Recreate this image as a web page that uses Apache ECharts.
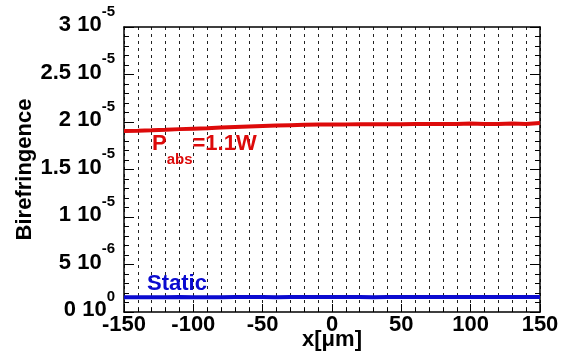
<!DOCTYPE html>
<html>
<head>
<meta charset="utf-8">
<script src="https://cdn.jsdelivr.net/npm/echarts@6/dist/echarts.min.js"></script>
<style>html,body{margin:0;padding:0;background:#fff;}#c{width:569px;height:354px;}</style>
</head>
<body>
<div id="c"></div>
<script>
// ---- data ----
var xPositions = [-150,-140,-130,-120,-110,-100,-90,-80,-70,-60,-50,-40,-30,-20,-10,0,10,20,30,40,50,60,70,80,90,100,110,120,130,140,150];
var heatedValues = [1.905,1.908,1.912,1.918,1.925,1.930,1.935,1.942,1.948,1.953,1.958,1.962,1.966,1.970,1.974,1.975,1.975,1.976,1.977,1.977,1.976,1.978,1.980,1.979,1.978,1.983,1.980,1.979,1.985,1.980,1.990]; // x 1e-5
var staticValues = [1.55,1.56,1.55,1.56,1.57,1.56,1.55,1.56,1.57,1.58,1.57,1.56,1.57,1.58,1.57,1.57,1.58,1.57,1.56,1.57,1.58,1.57,1.57,1.58,1.57,1.58,1.57,1.58,1.57,1.58,1.58]; // x 1e-6
var yTickValues = [0, 5e-6, 1e-5, 1.5e-5, 2e-5, 2.5e-5, 3e-5];
var yTickMantissa = ['0','5','1','1.5','2','2.5','3'];
var yTickExponent = ['0','-6','-5','-5','-5','-5','-5'];
var xTickLabels = ['-150','-100','-50','0','50','100','150'];

var FONT = "'Liberation Sans', Arial, Helvetica, sans-serif";
var RED = '#dd0a0a', BLUE = '#0a0ad0';

function pairs(xs, ys, scale){ return xs.map(function(x,i){ return [x, ys[i]*scale]; }); }

var chart = echarts.init(document.getElementById('c'), null, {renderer:'canvas'});
var dashed = {show:true, lineStyle:{color:'#222', width:1, type:[3,4]}};
chart.setOption({
  animation:false,
  backgroundColor:'#fff',
  grid:{left:124, right:29, top:27, bottom:42, containLabel:false, outerBoundsMode:'none'},
  xAxis:[{
    type:'value', min:-150, max:150, interval:50,
    name:'x[\u03bcm]', nameLocation:'middle', nameGap:17, nameMoveOverlap:false,
    nameTextStyle:{fontFamily:FONT, fontWeight:'bold', fontSize:22, color:'#000'},
    axisLine:{show:true, onZero:false, lineStyle:{color:'#000', width:1.5}},
    axisTick:{show:true, inside:true, length:8, lineStyle:{color:'#000', width:1}},
    minorTick:{show:true, splitNumber:5, length:4, lineStyle:{color:'#000', width:1}},
    splitLine:dashed, minorSplitLine:dashed,
    axisLabel:{margin:2, fontFamily:FONT, fontWeight:'bold', fontSize:22, color:'#000',
      formatter:function(v){ var i = xTickLabels.indexOf(String(v)); return i>=0 ? xTickLabels[i] : ''; }}
  },{
    type:'value', min:-150, max:150, position:'top',
    axisLine:{show:true, onZero:false, lineStyle:{color:'#000', width:1.5}},
    axisTick:{show:false}, axisLabel:{show:false}, splitLine:{show:false}
  }],
  yAxis:[{
    type:'value', min:0, max:3e-5, interval:5e-6,
    name:'Birefringence', nameLocation:'middle', nameGap:88, nameMoveOverlap:false,
    nameTextStyle:{fontFamily:FONT, fontWeight:'bold', fontSize:22, color:'#000'},
    axisLine:{show:true, onZero:false, lineStyle:{color:'#000', width:1.5}},
    axisTick:{show:true, inside:true, length:10, lineStyle:{color:'#000', width:1}},
    minorTick:{show:true, splitNumber:5, length:5, lineStyle:{color:'#000', width:1}},
    splitLine:{show:false},
    axisLabel:{margin:9, color:'#000', padding:[0,0,14,0],
      formatter:function(v){
        var best=0, d=Infinity;
        yTickValues.forEach(function(t,i){ var e=Math.abs(t-v); if(e<d){d=e;best=i;} });
        return '{m|'+yTickMantissa[best]+' 10}{s|'+yTickExponent[best]+'}';
      },
      rich:{
        m:{fontFamily:FONT, fontWeight:'bold', fontSize:22, color:'#000', lineHeight:32, verticalAlign:'bottom'},
        s:{fontFamily:FONT, fontWeight:'bold', fontSize:15, color:'#000', lineHeight:32, verticalAlign:'top'}
      }}
  },{
    type:'value', min:0, max:3e-5, interval:5e-6, position:'right',
    axisLine:{show:true, onZero:false, lineStyle:{color:'#000', width:1.5}},
    axisTick:{show:true, inside:true, length:10, lineStyle:{color:'#000', width:1}},
    minorTick:{show:true, splitNumber:5, length:5, lineStyle:{color:'#000', width:1}},
    axisLabel:{show:false}, splitLine:{show:false}
  }],
  series:[{
    type:'line', name:'heated', data:pairs(xPositions, heatedValues, 1e-5),
    showSymbol:false, symbol:'none', lineStyle:{color:RED, width:4}, z:5
  },{
    type:'line', name:'static', data:pairs(xPositions, staticValues, 1e-6),
    showSymbol:false, symbol:'none', lineStyle:{color:BLUE, width:4}, z:5
  }],
  graphic:[{
    type:'text', left:152, top:133, z:10,
    style:{
      text:'{P|P}{s|abs}{e|=1.1W}',
      rich:{
        P:{fontFamily:FONT, fontWeight:'bold', fontSize:22, fill:RED, lineHeight:34, verticalAlign:'top'},
        s:{fontFamily:FONT, fontWeight:'bold', fontSize:15, fill:RED, lineHeight:34, verticalAlign:'bottom'},
        e:{fontFamily:FONT, fontWeight:'bold', fontSize:22, fill:RED, lineHeight:34, verticalAlign:'top'}
      }
    }
  },{
    type:'text', left:147, top:273, z:10,
    style:{text:'Static', fontFamily:FONT, fontWeight:'bold', fontSize:22, fill:BLUE}
  }]
});
</script>
</body>
</html>
